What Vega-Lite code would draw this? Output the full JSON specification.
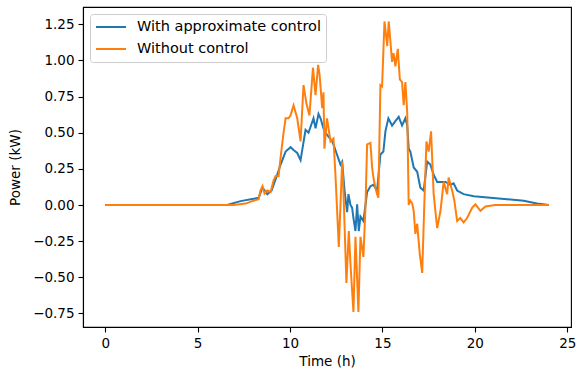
{
  "$schema": "https://vega.github.io/schema/vega-lite/v6.json",
  "width": 488,
  "height": 320,
  "autosize": "none",
  "padding": {"left": 83, "top": 7, "right": 8, "bottom": 46},
  "background": "white",
  "datasets": {
    "blue": [
      {"t": 0, "p": 0}, {"t": 6.6, "p": 0}, {"t": 7.32, "p": 0.027}, {"t": 8.03, "p": 0.043}, {"t": 8.3, "p": 0.05},
      {"t": 8.51, "p": 0.12}, {"t": 8.77, "p": 0.075}, {"t": 9.0, "p": 0.1}, {"t": 9.31, "p": 0.21}, {"t": 9.49, "p": 0.28},
      {"t": 9.76, "p": 0.37}, {"t": 10.03, "p": 0.4}, {"t": 10.19, "p": 0.38}, {"t": 10.39, "p": 0.36}, {"t": 10.57, "p": 0.31},
      {"t": 10.84, "p": 0.52}, {"t": 11.0, "p": 0.5}, {"t": 11.27, "p": 0.6}, {"t": 11.38, "p": 0.53}, {"t": 11.54, "p": 0.63},
      {"t": 11.65, "p": 0.6}, {"t": 11.81, "p": 0.53}, {"t": 11.92, "p": 0.5}, {"t": 12.28, "p": 0.44}, {"t": 12.35, "p": 0.42},
      {"t": 12.51, "p": 0.36}, {"t": 12.73, "p": 0.28}, {"t": 12.82, "p": 0.3}, {"t": 12.95, "p": 0.1}, {"t": 13.09, "p": -0.05},
      {"t": 13.16, "p": 0.075}, {"t": 13.27, "p": 0.0}, {"t": 13.36, "p": -0.02}, {"t": 13.43, "p": -0.09}, {"t": 13.54, "p": -0.18},
      {"t": 13.63, "p": 0.005}, {"t": 13.72, "p": -0.18}, {"t": 13.81, "p": -0.08}, {"t": 13.97, "p": -0.11}, {"t": 14.17, "p": 0.09},
      {"t": 14.35, "p": 0.13}, {"t": 14.51, "p": 0.14}, {"t": 14.71, "p": 0.1}, {"t": 14.89, "p": 0.35}, {"t": 15.05, "p": 0.37},
      {"t": 15.16, "p": 0.51}, {"t": 15.32, "p": 0.6}, {"t": 15.52, "p": 0.55}, {"t": 15.7, "p": 0.58}, {"t": 15.88, "p": 0.61},
      {"t": 16.06, "p": 0.55}, {"t": 16.24, "p": 0.6}, {"t": 16.34, "p": 0.55}, {"t": 16.42, "p": 0.39}, {"t": 16.51, "p": 0.37},
      {"t": 16.69, "p": 0.26}, {"t": 16.88, "p": 0.23}, {"t": 17.05, "p": 0.12}, {"t": 17.23, "p": 0.1}, {"t": 17.42, "p": 0.3},
      {"t": 17.59, "p": 0.28}, {"t": 17.77, "p": 0.21}, {"t": 17.96, "p": 0.16}, {"t": 18.31, "p": 0.16}, {"t": 18.41, "p": 0.16},
      {"t": 18.68, "p": 0.14}, {"t": 18.85, "p": 0.15}, {"t": 19.04, "p": 0.1}, {"t": 19.39, "p": 0.075}, {"t": 19.94, "p": 0.06},
      {"t": 20.84, "p": 0.05}, {"t": 21.74, "p": 0.04}, {"t": 22.64, "p": 0.03}, {"t": 23.36, "p": 0.01}, {"t": 24, "p": 0.0}
    ],
    "orange": [
      {"t": 0, "p": 0}, {"t": 6.95, "p": 0}, {"t": 7.6, "p": 0.01}, {"t": 8.03, "p": 0.03}, {"t": 8.3, "p": 0.04},
      {"t": 8.4, "p": 0.1}, {"t": 8.51, "p": 0.13}, {"t": 8.62, "p": 0.08}, {"t": 8.77, "p": 0.1}, {"t": 8.95, "p": 0.09},
      {"t": 9.11, "p": 0.17}, {"t": 9.22, "p": 0.2}, {"t": 9.38, "p": 0.2}, {"t": 9.49, "p": 0.33}, {"t": 9.65, "p": 0.5},
      {"t": 9.76, "p": 0.6}, {"t": 9.92, "p": 0.6}, {"t": 10.03, "p": 0.62}, {"t": 10.19, "p": 0.69}, {"t": 10.39, "p": 0.6},
      {"t": 10.57, "p": 0.44}, {"t": 10.73, "p": 0.83}, {"t": 10.89, "p": 0.7}, {"t": 11.05, "p": 0.62}, {"t": 11.24, "p": 0.95},
      {"t": 11.38, "p": 0.76}, {"t": 11.52, "p": 0.97}, {"t": 11.6, "p": 0.9}, {"t": 11.74, "p": 0.67}, {"t": 11.81, "p": 0.78},
      {"t": 11.86, "p": 0.39}, {"t": 12.0, "p": 0.6}, {"t": 12.19, "p": 0.44}, {"t": 12.35, "p": 0.46}, {"t": 12.46, "p": 0.2},
      {"t": 12.64, "p": -0.29}, {"t": 12.82, "p": 0.3}, {"t": 12.89, "p": 0.1}, {"t": 13.05, "p": -0.54}, {"t": 13.18, "p": -0.18},
      {"t": 13.27, "p": -0.41}, {"t": 13.43, "p": -0.74}, {"t": 13.54, "p": -0.22}, {"t": 13.7, "p": -0.74}, {"t": 13.81, "p": -0.22},
      {"t": 13.97, "p": -0.36}, {"t": 14.08, "p": -0.02}, {"t": 14.17, "p": 0.42}, {"t": 14.35, "p": 0.43}, {"t": 14.44, "p": 0.26},
      {"t": 14.51, "p": 0.19}, {"t": 14.62, "p": 0.12}, {"t": 14.71, "p": 0.075}, {"t": 14.78, "p": 0.05}, {"t": 14.89, "p": 0.83},
      {"t": 14.98, "p": 0.82}, {"t": 15.11, "p": 1.27}, {"t": 15.26, "p": 1.1}, {"t": 15.34, "p": 1.27}, {"t": 15.52, "p": 0.99},
      {"t": 15.6, "p": 1.05}, {"t": 15.7, "p": 0.96}, {"t": 15.83, "p": 1.08}, {"t": 15.94, "p": 0.87}, {"t": 16.06, "p": 0.85},
      {"t": 16.15, "p": 0.69}, {"t": 16.24, "p": 0.85}, {"t": 16.34, "p": 0.64}, {"t": 16.42, "p": 0.0}, {"t": 16.51, "p": 0.03},
      {"t": 16.61, "p": 0.01}, {"t": 16.69, "p": -0.04}, {"t": 16.78, "p": -0.2}, {"t": 16.88, "p": -0.13}, {"t": 17.02, "p": -0.34},
      {"t": 17.15, "p": -0.47}, {"t": 17.27, "p": 0.03}, {"t": 17.38, "p": 0.44}, {"t": 17.5, "p": 0.37}, {"t": 17.63, "p": 0.51},
      {"t": 17.77, "p": 0.075}, {"t": 17.96, "p": -0.16}, {"t": 18.14, "p": -0.04}, {"t": 18.31, "p": 0.16}, {"t": 18.5, "p": 0.075},
      {"t": 18.58, "p": 0.19}, {"t": 18.77, "p": 0.1}, {"t": 18.89, "p": 0.03}, {"t": 19.04, "p": -0.11}, {"t": 19.21, "p": -0.09},
      {"t": 19.39, "p": -0.12}, {"t": 19.58, "p": -0.09}, {"t": 19.85, "p": -0.02}, {"t": 20.03, "p": 0.005}, {"t": 20.3, "p": -0.04},
      {"t": 20.57, "p": -0.01}, {"t": 21.1, "p": 0.0}, {"t": 24, "p": 0.0}
    ]
  },
  "layer": [
    {
      "data": {"name": "blue"},
      "transform": [{"calculate": "'With approximate control'", "as": "s"}],
      "mark": {"type": "line", "strokeWidth": 2, "clip": true},
      "encoding": {
        "x": {"field": "t", "type": "quantitative"},
        "y": {"field": "p", "type": "quantitative"},
        "color": {"field": "s", "type": "nominal"}
      }
    },
    {
      "data": {"name": "orange"},
      "transform": [{"calculate": "'Without control'", "as": "s"}],
      "mark": {"type": "line", "strokeWidth": 2, "clip": true},
      "encoding": {
        "x": {"field": "t", "type": "quantitative"},
        "y": {"field": "p", "type": "quantitative"},
        "color": {"field": "s", "type": "nominal"}
      }
    }
  ],
  "resolve": {"scale": {"color": "shared"}},
  "encoding": {
    "x": {
      "field": "t", "type": "quantitative",
      "scale": {"domain": [-1.2, 25.2], "nice": false, "zero": false},
      "axis": {"title": "Time (h)", "values": [0, 5, 10, 15, 20, 25], "format": "d", "titlePadding": 5}
    },
    "y": {
      "field": "p", "type": "quantitative",
      "scale": {"domain": [-0.844, 1.37], "nice": false, "zero": false},
      "axis": {"title": "Power (kW)", "values": [-0.75, -0.5, -0.25, 0, 0.25, 0.5, 0.75, 1, 1.25], "format": ".2f", "titlePadding": 10}
    },
    "color": {
      "field": "s", "type": "nominal",
      "scale": {"domain": ["With approximate control", "Without control"], "range": ["#1f77b4", "#ff7f0e"]},
      "legend": {
        "title": null,
        "orient": "none",
        "legendX": 7,
        "legendY": 7,
        "symbolType": "stroke",
        "symbolSize": 900,
        "symbolStrokeWidth": 2,
        "clipHeight": 16,
        "labelFont": "DejaVu Sans",
        "labelFontSize": 14.5,
        "labelColor": "black",
        "labelOffset": 10,
        "labelLimit": 400,
        "rowPadding": 6,
        "padding": 5,
        "fillColor": "white",
        "strokeColor": "#cccccc",
        "cornerRadius": 3
      }
    }
  },
  "config": {
    "view": {"stroke": "black", "strokeWidth": 1.1},
    "font": "DejaVu Sans",
    "axis": {
      "grid": false,
      "domainColor": "black",
      "domainWidth": 1.1,
      "tickColor": "black",
      "tickWidth": 1.1,
      "tickSize": 5,
      "labelFont": "DejaVu Sans",
      "labelFontSize": 13.5,
      "labelColor": "black",
      "labelPadding": 4,
      "titleFont": "DejaVu Sans",
      "titleFontSize": 13.5,
      "titleFontWeight": "normal",
      "titleColor": "black"
    }
  }
}
